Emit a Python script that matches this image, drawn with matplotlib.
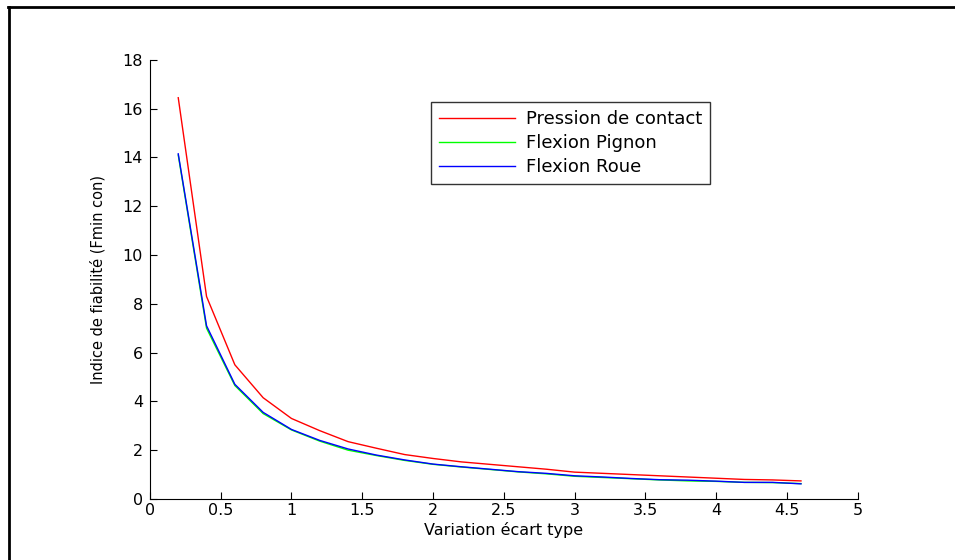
import matplotlib
matplotlib.use("Agg")
import matplotlib.pyplot as plt
from matplotlib.lines import Line2D

plt.rcParams['font.family'] = ['DejaVu Sans']

# ecart type
ecart = [0.2, 0.4, 0.6, 0.8, 1.0, 1.2, 1.4, 1.6, 1.8, 2.0, 2.2, 2.4,
         2.6, 2.8, 3.0, 3.2, 3.4, 3.6, 3.8, 4.0, 4.2, 4.4, 4.6]

pression = [16.45, 8.3, 5.5, 4.15, 3.3, 2.8, 2.35, 2.08, 1.82, 1.66, 1.52, 1.42,
            1.32, 1.22, 1.1, 1.05, 1.0, 0.95, 0.9, 0.85, 0.8, 0.78, 0.74]
pignon = [14.1, 7.0, 4.65, 3.5, 2.83, 2.37, 2.0, 1.78, 1.58, 1.42, 1.31, 1.21,
          1.11, 1.03, 0.93, 0.88, 0.83, 0.78, 0.74, 0.72, 0.68, 0.67, 0.63]
roue = [14.15, 7.1, 4.7, 3.55, 2.85, 2.4, 2.05, 1.8, 1.6, 1.43, 1.32, 1.22,
        1.12, 1.05, 0.95, 0.9, 0.84, 0.79, 0.77, 0.73, 0.68, 0.68, 0.62]

noms = ['Pression de contact', 'Flexion Pignon', 'Flexion Roue']
couleurs = ['#ff0000', '#00ff00', '#0000ff']

fig = plt.figure(figsize=(9.55, 5.6), dpi=100)
ax = fig.add_axes([0.157, 0.109, 0.741, 0.784])

for serie, nom, c in zip([pression, pignon, roue], noms, couleurs):
    ax.plot(ecart, serie, color=c, linewidth=1.0, label=nom)

ax.set_xlim(0, 5)
ax.set_ylim(0, 18)
ax.set_xticks([0, 0.5, 1, 1.5, 2, 2.5, 3, 3.5, 4, 4.5, 5])
ax.set_xticklabels(['0', '0.5', '1', '1.5', '2', '2.5', '3', '3.5', '4', '4.5', '5'])
ax.set_yticks(range(0, 19, 2))
ax.tick_params(direction='in', length=5, width=0.8, labelsize=11.5, pad=3)
ax.tick_params(axis='y', pad=5)
ax.spines['top'].set_visible(False)
ax.spines['right'].set_visible(False)

ax.set_xlabel('Variation écart type', fontsize=11.5, labelpad=3)
ax.set_ylabel('Indice de fiabilité (Fmin con)', fontsize=10.5, labelpad=12)

leg = ax.legend(loc='upper left', bbox_to_anchor=(0.3975, 0.9045), fontsize=13,
                frameon=True, fancybox=False, handlelength=4.2, handletextpad=0.6,
                borderpad=0.45, labelspacing=0.33, borderaxespad=0)
leg.get_frame().set_edgecolor('black')
leg.get_frame().set_linewidth(1.0)

# cadre autour de la figure
fig.add_artist(Line2D([9 / 955, 9 / 955], [0, 1 - 7 / 560], color='black', linewidth=2,
                      transform=fig.transFigure))
fig.add_artist(Line2D([8 / 955, 1], [1 - 7 / 560, 1 - 7 / 560], color='black', linewidth=2,
                      transform=fig.transFigure))

fig.savefig('out.png', dpi=100)
